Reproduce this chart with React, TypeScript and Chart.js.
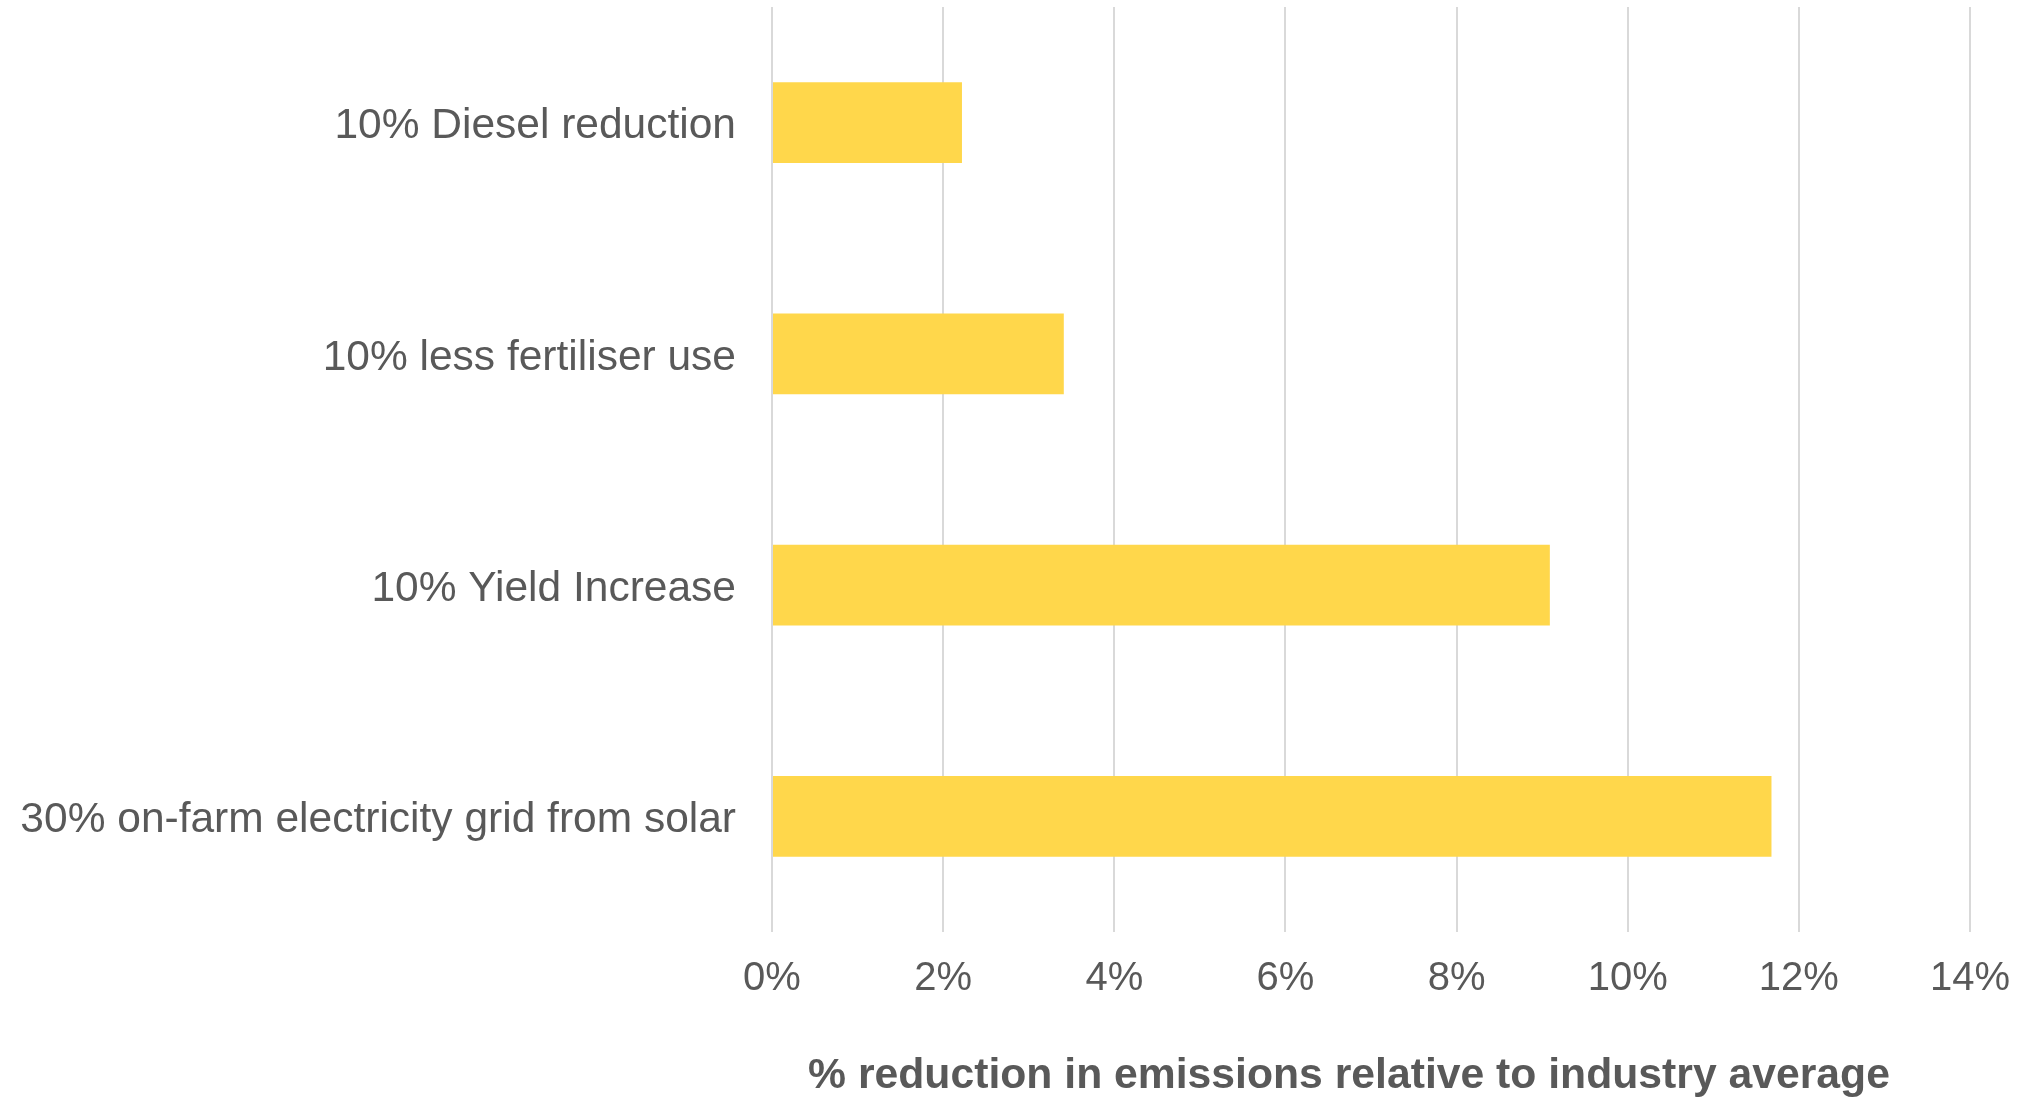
import React, { useEffect, useRef } from "react";
import { Chart, registerables } from "chart.js";

Chart.register(...registerables);

const categories = [
  "10% Diesel reduction",
  "10% less fertiliser use",
  "10% Yield Increase",
  "30% on-farm electricity grid from solar",
];
const reductionValues = [2.22, 3.41, 9.09, 11.68];
const axisTitle = "% reduction in emissions relative to industry average";
const xMin = 0;
const xMax = 14;
const xStep = 2;

const TEXT = "#595959";
const FONT = "'Liberation Sans', Arial, sans-serif";

const axisTitlePlugin = {
  id: "axisTitlePlugin",
  afterDraw(chart: any) {
    const ctx = chart.ctx;
    const area = chart.chartArea;
    ctx.save();
    ctx.font = `bold 42.7px ${FONT}`;
    ctx.fillStyle = TEXT;
    ctx.textAlign = "center";
    ctx.textBaseline = "middle";
    ctx.fillText(axisTitle, (area.left + area.right) / 2 - 22, 1076);
    ctx.restore();
  },
};

export default function App() {
  const ref = useRef<HTMLCanvasElement | null>(null);
  useEffect(() => {
    document.body.style.margin = "0";
    const canvas = ref.current;
    if (!canvas) return;
    const chart = new Chart(canvas, {
      type: "bar",
      data: {
        labels: categories,
        datasets: [
          {
            data: reductionValues,
            backgroundColor: "rgb(255,215,75)",
            borderWidth: 0,
            categoryPercentage: 1,
            barPercentage: 0.35,
          },
        ],
      },
      options: {
        indexAxis: "y",
        responsive: false,
        animation: false,
        devicePixelRatio: 1,
        layout: { padding: { top: 7, right: 47, left: 0, bottom: 0 } },
        plugins: {
          legend: { display: false },
          tooltip: { enabled: false },
        },
        scales: {
          x: {
            type: "linear",
            min: xMin,
            max: xMax,
            grid: { color: "#d9d9d9", lineWidth: 2, drawTicks: false },
            border: { display: false },
            ticks: {
              stepSize: xStep,
              padding: 23,
              color: TEXT,
              font: { family: FONT, size: 40 },
              callback: (v: any) => `${v}%`,
            },
            afterFit: (scale: any) => {
              scale.height = 169;
              scale.paddingLeft = 0;
              scale.paddingRight = 0;
            },
          },
          y: {
            grid: { display: false, drawTicks: false },
            border: { display: false },
            ticks: {
              padding: 36,
              labelOffset: 4,
              color: TEXT,
              font: { family: FONT, size: 42.5 },
            },
            afterFit: (scale: any) => {
              scale.width = 772;
              scale.paddingTop = 0;
              scale.paddingBottom = 0;
            },
          },
        },
      },
      plugins: [axisTitlePlugin],
    });
    return () => chart.destroy();
  }, []);
  return (
    <div style={{ width: 2017, height: 1101, background: "#fff" }}>
      <canvas ref={ref} width={2017} height={1101} style={{ display: "block" }} />
    </div>
  );
}
